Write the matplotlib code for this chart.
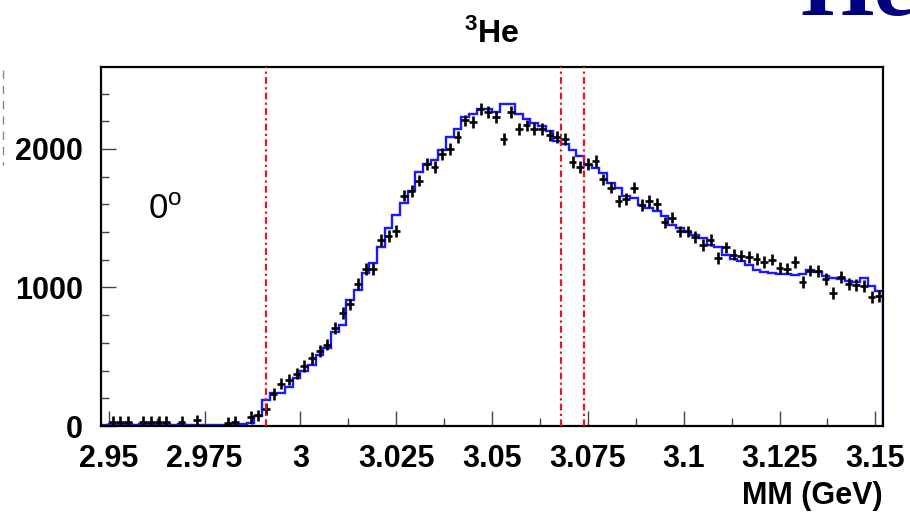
import numpy as np
import matplotlib
matplotlib.use("Agg")
import matplotlib.pyplot as plt
from matplotlib.ticker import MultipleLocator
from matplotlib.lines import Line2D

plt.rcParams['font.family'] = ['Liberation Sans', 'DejaVu Sans']
plt.rcParams['mathtext.fontset'] = 'custom'
plt.rcParams['mathtext.rm'] = 'Liberation Sans'
plt.rcParams['mathtext.bf'] = 'Liberation Sans:bold'
plt.rcParams['mathtext.default'] = 'bf'

# histogram binning (GeV)
mm_lo, mm_hi, n_bins = 2.948, 3.152, 102

# measured counts per bin (0 = empty bin)
data_counts = [0, 30, 30, 32, 0, 32, 30, 30, 30, 0, 32, 0, 40, 0, 0, 0, 25, 30, 0,
               64, 76, 125, 233, 306, 335, 378, 431, 491, 540,
               588, 709, 818, 878, 1023, 1134, 1134, 1344, 1373, 1409,
               1663, 1699, 1772, 1893, 1868, 1965, 2001, 2086, 2207, 2194,
               2291, 2267, 2230, 2074, 2267, 2146, 2170, 2146, 2146, 2098,
               2086, 2074, 1904, 1868, 1893, 1912, 1780, 1721, 1625, 1637,
               1721, 1596, 1625, 1604, 1470, 1505, 1405, 1405, 1365, 1309,
               1345, 1214, 1290, 1238, 1230, 1218, 1206, 1185, 1201, 1142,
               1137, 1185, 1041, 1122, 1118, 1063, 962, 1075, 1027, 1017,
               1010, 931, 938]

# simulation histogram (blue)
sim_counts = [10, 14, 12, 16, 10, 15, 18, 16, 14, 10, 12, 8, 10, 8, 8, 8, 10, 12, 15,
              25, 75, 190, 235, 235, 283, 350, 395, 440, 511,
              565, 680, 728, 909, 982, 1103, 1175, 1296, 1429, 1525,
              1610, 1697, 1833, 1890, 1918, 1990, 2090, 2146, 2232, 2250,
              2286, 2286, 2267, 2322, 2322, 2250, 2214, 2190, 2165, 2129,
              2057, 2033, 1996, 1950, 1888, 1864, 1827, 1755, 1719, 1658,
              1646, 1598, 1574, 1549, 1513, 1453, 1429, 1404, 1380, 1357,
              1308, 1290, 1236, 1205, 1190, 1163, 1127, 1114, 1103, 1100,
              1095, 1090, 1095, 1125, 1110, 1085, 1070, 1060, 1050, 1040,
              1070, 1010, 975]

cut_lines = [2.991, 3.068, 3.074]

x_ticks = [2.95, 2.975, 3.0, 3.025, 3.05, 3.075, 3.1, 3.125, 3.15]
x_tick_labels = ['2.95', '2.975', '3', '3.025', '3.05', '3.075', '3.1', '3.125', '3.15']
y_ticks = [0, 1000, 2000]
y_tick_labels = ['0', '1000', '2000']

edges = np.linspace(mm_lo, mm_hi, n_bins + 1)
centers = 0.5 * (edges[:-1] + edges[1:])
half_w = 0.5 * (edges[1] - edges[0])
data = np.array(data_counts, dtype=float)
sim = np.array(sim_counts, dtype=float)

fig = plt.figure(figsize=(9.10, 5.18), dpi=100)
ax = fig.add_axes([101 / 910, 1 - 426 / 518, 782 / 910, 359 / 518])

ax.stairs(sim, edges, color='#1a1aff', lw=1.7, zorder=2)
filled = data > 0
ax.errorbar(centers[filled], data[filled], xerr=half_w, yerr=42,
            fmt='none', ecolor='black', elinewidth=1.9, capsize=0, zorder=3)

for xc in cut_lines:
    ax.axvline(xc, color='#e8141e', lw=1.6, linestyle=(0, (3, 1.5, 1, 1.5)), zorder=4)

ax.set_xlim(mm_lo, mm_hi)
ax.set_ylim(0, 2592)
ax.set_xticks(x_ticks)
ax.set_xticklabels(x_tick_labels, fontsize=22, fontweight='bold')
ax.set_yticks(y_ticks)
ax.set_yticklabels(y_tick_labels, fontsize=22, fontweight='bold')
ax.xaxis.set_minor_locator(MultipleLocator(0.0125))
ax.yaxis.set_minor_locator(MultipleLocator(200))
ax.tick_params(which='both', direction='in', top=False, right=False,
               color='#444444', width=1.0)
ax.tick_params(which='major', length=10.8)
ax.tick_params(which='minor', length=5.8)
ax.tick_params(axis='y', pad=13)
ax.tick_params(axis='x', pad=13)
for sp in ax.spines.values():
    sp.set_linewidth(1.6)

ax.text(0.06, 0.577, r'0$^{\mathrm{o}}$', transform=ax.transAxes,
        fontsize=25, fontweight='normal', ha='left', va='baseline')

fig.text(492 / 910, 1 - 43 / 518, r'$^{3}$He', fontsize=23, fontweight='bold',
         ha='center', va='baseline')
fig.text(883 / 910, 1 - 504 / 518, 'MM (GeV)', fontsize=22, fontweight='bold',
         ha='right', va='baseline')

# part of the slide title peeking in at the top right
fig.text(800 / 910, 1 - 15 / 518, 'He', fontsize=68, fontweight='bold',
         family='Liberation Serif', color='#000080', ha='left', va='baseline')

# dashed edge of the neighbouring panel
fig.add_artist(Line2D([3 / 910, 3 / 910], [1 - 70 / 518, 1 - 165 / 518],
                      transform=fig.transFigure, color='#888888', lw=1.0,
                      linestyle=(0, (6, 5))))

fig.savefig('out.png', dpi=100)
